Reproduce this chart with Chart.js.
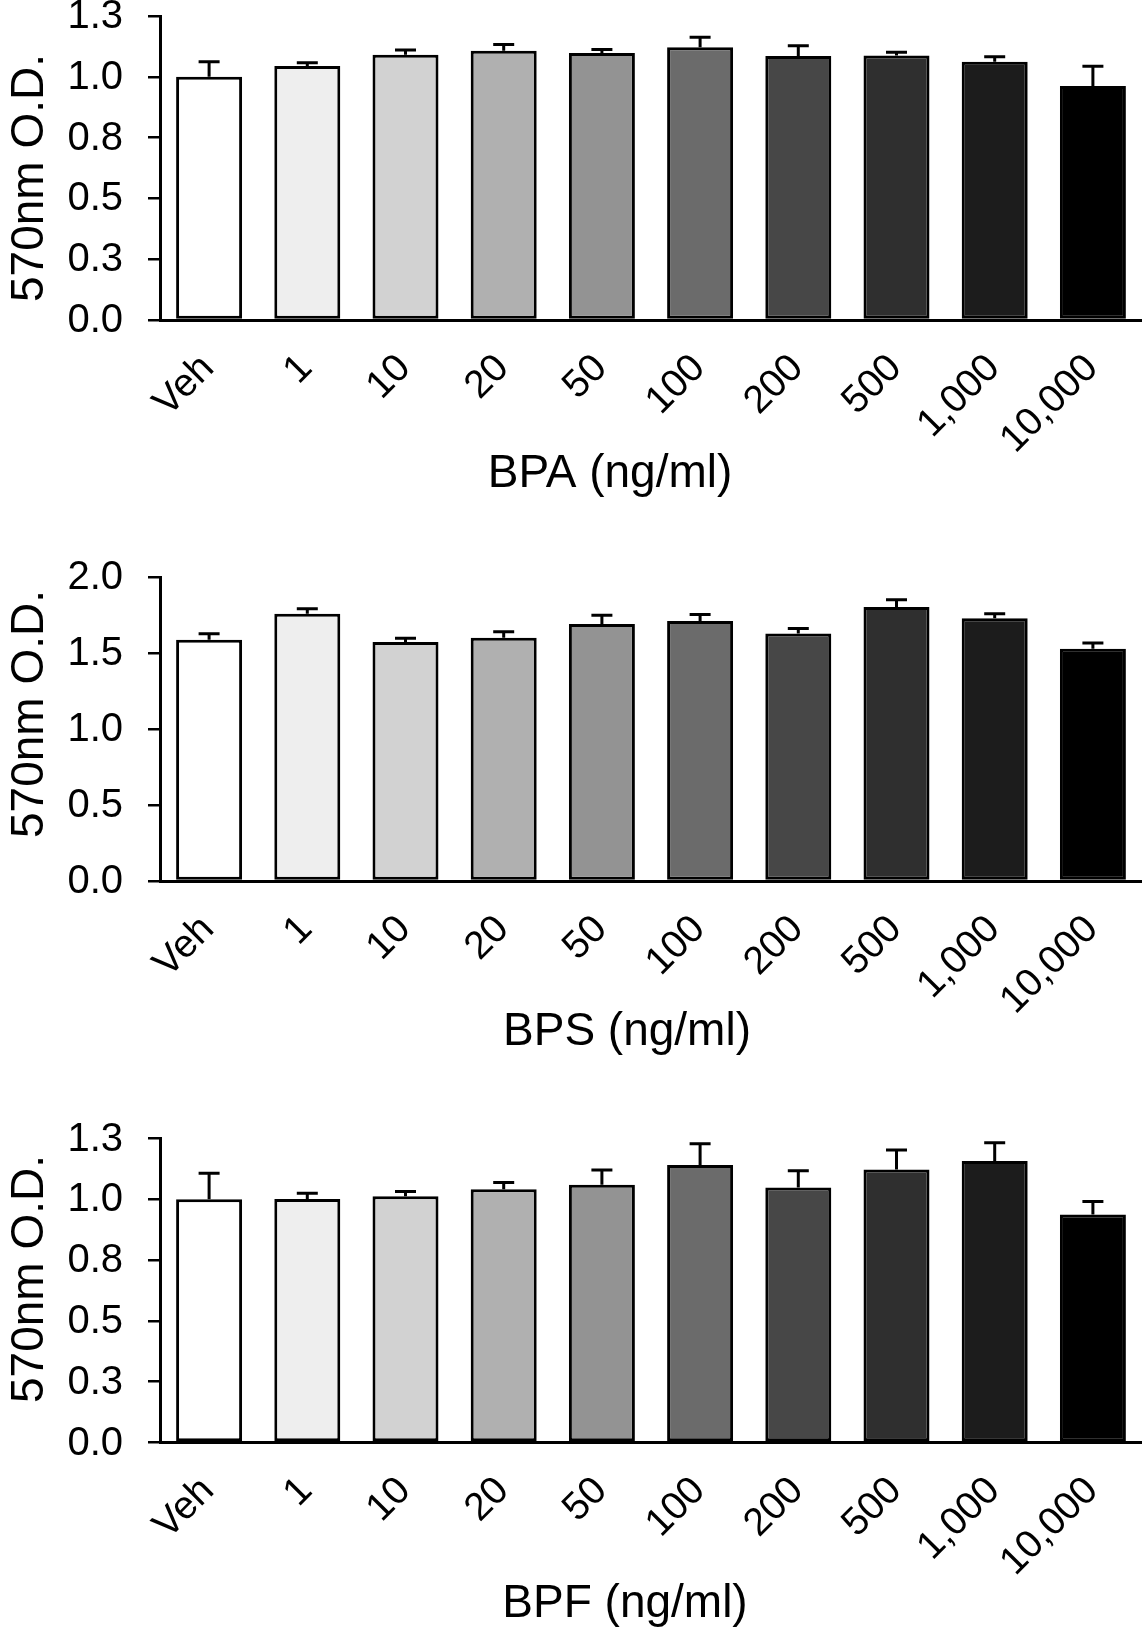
<!DOCTYPE html>
<html>
<head>
<meta charset="utf-8">
<script src="https://cdn.jsdelivr.net/npm/chart.js@4/dist/chart.umd.min.js"></script>
<style>
  html, body { margin: 0; padding: 0; background: #fff; }
  #page { position: relative; width: 1142px; height: 1629px; overflow: hidden; }
  canvas { position: absolute; left: 0; }
</style>
</head>
<body>
<div id="page">
  <canvas id="bpaChart" width="1142" height="540" style="top:0px"></canvas>
  <canvas id="bpsChart" width="1142" height="540" style="top:540px"></canvas>
  <canvas id="bpfChart" width="1142" height="549" style="top:1080px"></canvas>
</div>
<script>
// --- data ---
const doses = ['Veh', '1', '10', '20', '50', '100', '200', '500', '1,000', '10,000'];

const bpaMean = [1.000, 1.044, 1.091, 1.107, 1.098, 1.121, 1.086, 1.088, 1.062, 0.962];
const bpaSem  = [0.062, 0.014, 0.019, 0.026, 0.014, 0.042, 0.042, 0.013, 0.020, 0.081];

const bpsMean = [1.587, 1.759, 1.572, 1.600, 1.690, 1.711, 1.628, 1.803, 1.729, 1.528];
const bpsSem  = [0.040, 0.032, 0.025, 0.040, 0.059, 0.043, 0.034, 0.047, 0.029, 0.038];

const bpfMean = [1.000, 1.001, 1.013, 1.041, 1.060, 1.141, 1.049, 1.123, 1.157, 0.938];
const bpfSem  = [0.107, 0.024, 0.019, 0.028, 0.060, 0.087, 0.068, 0.080, 0.076, 0.053];

const yTicksSmall = ['0.0', '0.3', '0.5', '0.8', '1.0', '1.3'];
const yTicksLarge = ['0.0', '0.5', '1.0', '1.5', '2.0'];

const yTitle = '570nm O.D.';

// grey ramp, white -> black
const barFills = ['#ffffff', '#eeeeee', '#d2d2d2', '#b0b0b0', '#939393',
                  '#6b6b6b', '#474747', '#2f2f2f', '#1c1c1c', '#000000'];

const FONT = '"Liberation Sans", Arial, Helvetica, sans-serif';

// error bars + all the text, drawn on the library's scales
const decoPlugin = {
    id: 'deco',
    afterDatasetsDraw(chart, args, opts) {
        const ctx = chart.ctx;
        const y = chart.scales.y;
        const bars = chart.getDatasetMeta(0).data;
        const means = chart.data.datasets[0].data;
        ctx.save();
        ctx.strokeStyle = '#000';
        ctx.lineWidth = 3;
        bars.forEach((bar, i) => {
            const top = y.getPixelForValue(means[i]);
            const hi = y.getPixelForValue(means[i] + opts.sem[i]);
            ctx.beginPath();
            ctx.moveTo(bar.x, top);
            ctx.lineTo(bar.x, hi);
            ctx.moveTo(bar.x - 10.5, hi);
            ctx.lineTo(bar.x + 10.5, hi);
            ctx.stroke();
        });
        ctx.restore();
    },
    afterDraw(chart, args, opts) {
        const ctx = chart.ctx;
        const x = chart.scales.x;
        const y = chart.scales.y;
        const area = chart.chartArea;
        ctx.save();
        ctx.fillStyle = '#000';

        // y tick labels
        ctx.font = '40px ' + FONT;
        ctx.textAlign = 'right';
        ctx.textBaseline = 'middle';
        y.ticks.forEach((t, i) => {
            ctx.fillText(opts.yLabels[i], area.left - 37, y.getPixelForTick(i) + 1);
        });

        // x tick labels, rotated 45
        ctx.font = '39px ' + FONT;
        x.ticks.forEach((t, i) => {
            ctx.save();
            ctx.translate(x.getPixelForTick(i) - 1, area.bottom + 42);
            ctx.rotate(-Math.PI / 4);
            ctx.textAlign = 'right';
            ctx.textBaseline = 'middle';
            ctx.fillText(doses[i], 0, 0);
            ctx.restore();
        });

        // axis titles
        ctx.font = '46px ' + FONT;
        ctx.textAlign = 'center';
        ctx.textBaseline = 'alphabetic';
        ctx.fillText(opts.xTitle, opts.xTitleX, opts.xTitleY);

        ctx.save();
        ctx.translate(43, opts.yTitleY);
        ctx.rotate(-Math.PI / 2);
        ctx.fillText(yTitle, 0, 0);
        ctx.restore();

        ctx.restore();
    }
};

function makePanel(id, means, sems, yMax, yStep, yLabels, xTitle, pos) {
    const canvas = document.getElementById(id);
    new Chart(canvas.getContext('2d'), {
        type: 'bar',
        data: {
            labels: doses,
            datasets: [{
                data: means,
                backgroundColor: barFills,
                borderColor: '#000',
                borderWidth: 3,
                borderSkipped: false,
                categoryPercentage: 1.0,
                barPercentage: 0.672
            }]
        },
        options: {
            responsive: false,
            animation: false,
            devicePixelRatio: 1,
            layout: {
                padding: { left: 148, right: 0, top: pos.top, bottom: canvas.height - pos.bottom }
            },
            plugins: {
                legend: { display: false },
                tooltip: { enabled: false },
                deco: { sem: sems, yLabels: yLabels, xTitle: xTitle,
                        xTitleX: pos.xTitleX, xTitleY: pos.xTitleY, yTitleY: pos.yTitleY }
            },
            scales: {
                x: {
                    ticks: { display: false },
                    grid: { display: false, drawTicks: false },
                    border: { display: true, color: '#000', width: 3 },
                    afterFit: s => { s.height = 0; }
                },
                y: {
                    min: 0,
                    max: yMax,
                    ticks: { display: false, stepSize: yStep },
                    grid: { drawOnChartArea: false, drawTicks: true, tickLength: 12, color: '#000', lineWidth: 2.5 },
                    border: { display: true, color: '#000', width: 3 },
                    afterFit: s => { s.width = 12; }
                }
            }
        },
        plugins: [decoPlugin]
    });
}

makePanel('bpaChart', bpaMean, bpaSem, 1.25, 0.25, yTicksSmall, 'BPA (ng/ml)',
          { top: 16, bottom: 320, xTitleX: 610, xTitleY: 487, yTitleY: 178 });
makePanel('bpsChart', bpsMean, bpsSem, 2.0, 0.5, yTicksLarge, 'BPS (ng/ml)',
          { top: 37, bottom: 341, xTitleX: 627, xTitleY: 505, yTitleY: 174 });
makePanel('bpfChart', bpfMean, bpfSem, 1.25, 0.25, yTicksSmall, 'BPF (ng/ml)',
          { top: 58.5, bottom: 362.5, xTitleX: 625, xTitleY: 537, yTitleY: 199 });
</script>
</body>
</html>
